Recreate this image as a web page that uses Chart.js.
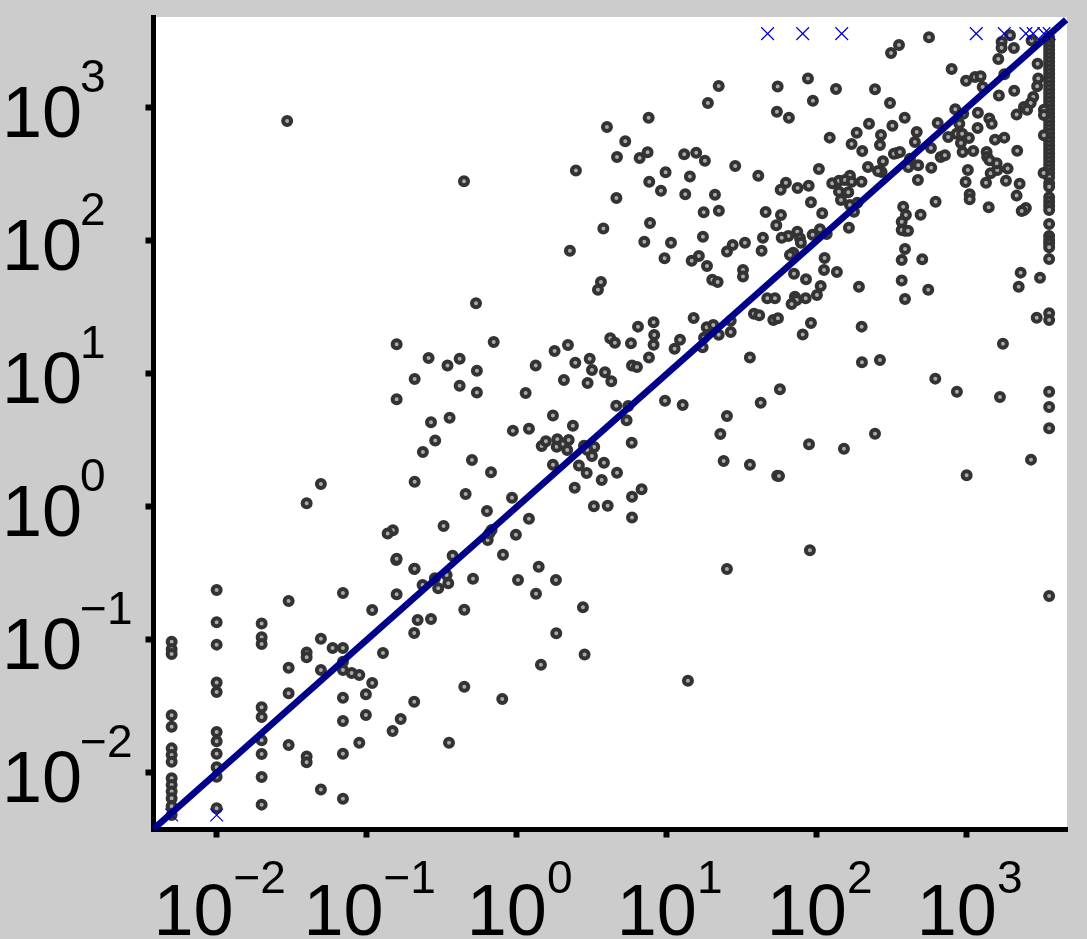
<!DOCTYPE html>
<html>
<head>
<meta charset="utf-8">
<title>Log-log scatter</title>
<script src="https://cdn.jsdelivr.net/npm/chart.js@4"></script>
<style>
html, body { margin: 0; padding: 0; background: #cccccc; overflow: hidden; }
canvas { display: block; }
</style>
</head>
<body>
<canvas id="scatter" width="1087" height="939"></canvas>
<script>
// axis ticks and bounds (log10 of the limits)
var tickValues = [0.01, 0.1, 1, 10, 100, 1000];
var tickExponents = ["\u22122", "\u22121", "0", "1", "2", "3"];
var xLimits = [-2.421, 3.669];
var yLimits = [-2.425, 3.684];
var lineEnds = [-2.421, 3.663];

// floor and ceiling values, where many points pile up in columns
var xFloor = -2.30, xNext = -2.00, xThird = -1.70, xCeil = 3.55;
var yAtFloor = [-1.013,-1.07,-1.105,-1.566,-1.652,-1.815,-1.865,-1.915,-2.04,-2.09,-2.14,-2.19,-2.25,-2.316];
var yAtNext = [-0.624,-0.867,-1.035,-1.32,-1.391,-1.692,-1.762,-1.855,-1.957,-2.028,-2.266];
var yAtThird = [-0.877,-0.98,-1.03,-1.506,-1.579,-1.754,-1.857,-2.03,-2.238];
var yAtCeil = [3.53,3.50,3.47,3.44,3.41,3.38,3.35,3.32,3.29,3.26,3.23,3.20,3.17,3.14,3.11,3.08,3.05,3.02,2.99,2.96,2.93,2.90,2.87,2.84,2.81,2.78,2.75,2.72,2.69,2.66,2.63,2.60,2.57,2.54,2.51,2.48,
	2.434,2.408,2.329,2.296,2.265,2.233,2.128,2.038,2.008,1.983,1.953,1.865,1.456,1.406,0.867,0.752,0.592,-0.669];

// log10 x, log10 y pairs, by part of the plot
var lowPoints = [[-1.52,-0.707],[-1.52,-1.208],[-1.52,-1.401],[-1.52,-1.789],[-1.40,-1.095],[-1.40,-1.13],[-1.40,-1.877],[-1.40,-1.92],
	[-1.305,-0.99],[-1.305,-1.226],[-1.305,-2.125],[-1.227,-1.06],[-1.158,-0.647],[-1.158,-1.06],[-1.158,-1.163],[-1.158,-1.226],[-1.158,-1.434],[-1.158,-1.609],[-1.158,-1.855],[-1.158,-2.193],
	[-1.10,-1.248],[-1.049,-1.263],[-1.049,-1.772],[-0.963,-0.774],[-0.963,-1.323],[-1.005,-1.408],[-1.005,-1.564],[-0.891,-1.098],[-0.80,-0.657],[-0.803,-0.398],
	[-0.683,-0.466],[-0.66,-0.85],[-0.571,-0.842],[-0.683,-0.947],[-0.683,-1.464],[-0.773,-1.594],[-0.827,-1.684],[-0.627,-0.586],[-0.545,-0.536],[-0.523,-0.611],[-0.456,-0.574],[-0.467,-0.511],[-0.451,-1.772]];

var midLeftPoints = [[-1.53,2.902],[-0.271,1.531],[-0.80,1.223],[-0.153,1.241],[-0.587,1.12],[-0.38,1.115],[-0.461,1.063],[-0.265,1.025],[-0.68,0.962],[-0.38,0.912],[-0.265,0.86],[-0.80,0.81],
	[0.253,1.173],[0.342,1.218],[0.391,1.085],[0.127,1.063],[0.315,0.955],[0.06,0.857],[0.242,0.687],[0.375,0.611],[-0.025,0.574],[0.082,0.589],[-0.447,0.671],[-0.571,0.637],[-0.543,0.499],[-0.625,0.414],
	[-0.298,0.353],[-0.171,0.261],[-0.68,0.19],[-1.305,0.173],[-1.40,0.028],[-0.34,0.098],[-0.031,0.07],[-0.198,-0.03],[0.082,-0.088],[-0.005,-0.208],[-0.091,-0.359],[0.147,-0.449],
	[-0.825,-0.175],[-0.86,-0.2],[-0.487,-0.143],[-0.167,-0.173],[-0.193,-0.248],[-0.182,-0.198],[-0.80,-0.389],[-0.68,-0.464],[-0.427,-0.366],[-0.291,-0.539],[0.009,-0.549],[0.262,-0.549],
	[0.167,0.459],[0.195,0.494],[0.271,0.509],[0.267,0.453],[0.311,0.474],[0.347,0.504],[0.337,0.429],[0.242,0.318],[0.415,0.311],[0.387,0.145],
	[0.129,-0.652],[-0.349,-0.772],[0.442,-0.754],[0.264,-0.95],[0.453,-1.11],[0.162,-1.186],[-0.349,-1.351],[-0.096,-1.444],[1.142,-1.306]];

var midPoints = [[0.487,1.115],[0.502,1.03],[0.589,1.013],[0.631,0.945],[0.473,0.932],[0.624,1.268],[0.655,1.235],[0.809,1.356],[0.762,1.231],[0.913,1.389],[0.917,1.293],[0.913,1.22],
	[1.089,1.258],[1.053,1.19],[0.882,1.123],[0.769,1.063],[0.802,1.053],[1.18,1.421],[1.267,1.351],[1.311,1.368],[1.427,1.401],[1.347,1.295],[1.427,1.316],[1.249,1.273],[1.24,1.2],
	[1.582,1.453],[1.617,1.441],[1.711,1.406],[1.742,1.419],[1.555,1.123],[1.755,0.885],[1.627,0.784],[0.664,0.762],[0.744,0.759],[0.733,0.652],[0.989,0.799],[1.107,0.767],[1.402,0.684],[1.358,0.549],[1.38,0.346],[1.555,0.318],[1.737,0.235],
	[0.767,0.483],[0.449,0.461],[0.517,0.451],[0.471,0.429],[0.502,0.383],[0.467,0.256],[0.582,0.333],[0.669,0.258],[0.567,0.203],[0.833,0.133],[0.769,0.077],[0.515,0.005],[0.607,0.01],[0.769,-0.08],[1.402,-0.466]];

var upperMidPoints = [[1.347,3.165],[1.275,3.038],[0.88,2.927],[0.602,2.857],[0.724,2.75],[0.669,2.632],[0.82,2.624],[0.873,2.667],[1.117,2.652],[1.197,2.664],[1.255,2.604],[1.457,2.564],[0.395,2.529],[-0.351,2.449],
	[0.993,2.517],[1.155,2.484],[0.884,2.446],[0.962,2.378],[1.124,2.351],[1.322,2.348],[0.665,2.323],[1.247,2.216],[1.348,2.228],[0.889,2.135],[0.578,2.093],[0.355,1.927],[0.851,1.995],[1.029,1.987],[1.242,2.032],
	[1.522,1.987],[1.44,1.97],[1.402,1.92],[0.986,1.87],[1.215,1.887],[1.167,1.852],[1.269,1.812],[1.509,1.782],[1.509,1.732],[1.304,1.709],[1.34,1.692],[0.562,1.692],[0.542,1.634]];

var upperRightPoints = [[2.549,3.474],[2.496,3.414],[1.942,3.221],[1.74,3.161],[2.129,3.143],[2.389,3.14],[1.975,3.055],[2.489,3.038],[1.735,2.972],[1.815,2.927],[2.587,2.927],[2.505,2.867],[2.349,2.882],[2.267,2.814],[2.429,2.797],[2.422,2.722],[2.233,2.729],[2.304,2.677],[2.087,2.777],[2.535,2.662],[2.515,2.656],[2.442,2.599],[2.342,2.556],[2.015,2.541],[1.611,2.491],[2.433,2.519],[2.409,2.526],[2.222,2.491],
	[1.795,2.438],[1.76,2.386],[1.873,2.398],[1.947,2.416],[2.104,2.434],[2.149,2.453],[2.189,2.459],[2.233,2.446],[2.299,2.446],[2.149,2.371],[2.211,2.366],[2.162,2.308],[1.962,2.291],[2.222,2.271],[2.271,2.288],[2.249,2.22],[2.037,2.208],[1.66,2.218],[1.762,2.195],[1.731,2.118],[2.215,2.1],
	[1.871,2.07],[1.811,2.038],[1.767,2.025],[1.889,2.02],[1.895,1.987],[1.973,2.047],[2.022,2.088],[2.067,2.053],[1.642,2.025],[1.633,1.927],[1.844,1.912],[1.822,1.895],[2.053,1.872],[2.049,1.782],[2.135,1.767],[1.849,1.754],[1.929,1.712],[2.027,1.662],[2.002,1.594],[1.927,1.569],[1.855,1.581],[1.867,1.556],[1.833,1.526],[1.671,1.569],[1.722,1.569],[2.282,1.656]];

var rightPoints = [[1.962,1.383],[1.907,1.296],[2.3,1.356],[2.302,1.088],[2.422,1.105],[3.242,1.228],[3.467,1.423],[2.791,0.965],[2.935,0.867],[3.222,0.827],[2.389,0.551],[1.949,0.471],[2.182,0.438],[1.749,0.233],[3.429,0.356],[3.0,0.238],[1.955,-0.326],
	[2.764,2.551],[2.675,2.459],[3.008,2.534],[2.993,2.444],[3.129,2.438],[3.16,2.509],[3.204,2.534],[3.2,2.584],[3.273,2.544],[3.262,2.453],[3.353,2.431],[3.333,2.341],[3.382,2.233],[3.395,2.248],[3.367,2.226],[3.02,2.351],[3.02,2.313],[3.147,2.253],[2.793,2.295],[2.693,2.198],[2.577,2.258],[2.595,2.195],[2.567,2.145],[2.589,2.077],[2.567,2.083],[2.609,2.077],[2.589,1.94],[2.567,1.857],[2.704,1.862],[2.567,1.702],[2.744,1.634],[2.589,1.564],[3.513,2.511],[3.489,1.724],[3.36,1.762],[3.347,1.656]];

var topRightPoints = [[2.749,3.531],[2.9,3.293],[2.996,3.205],[3.056,3.233],[3.093,3.238],[3.107,3.158],[3.211,3.368],[3.233,3.496],[3.233,3.453],[3.289,3.546],[3.315,3.451],[3.433,3.508],[3.473,3.333],[3.251,3.253],[3.477,3.221],[3.47,3.163],[3.317,3.13],[3.215,3.093],[3.444,3.083],[3.427,3.038],[3.382,3.008],[3.403,2.987],[3.333,2.95],[3.515,2.987],[3.515,2.947],[3.515,2.795],[3.075,2.964],[2.924,2.99],[2.977,2.957],[3.151,2.92],[3.167,2.882],
	[2.807,2.887],[2.951,2.882],[3.073,2.85],[2.667,2.82],[2.877,2.782],[2.933,2.807],[2.97,2.807],[3.015,2.774],[2.962,2.737],[2.655,2.744],[3.189,2.762],[3.251,2.777],[2.973,2.669],[3.044,2.677],[3.337,2.679],[2.762,2.699],[2.555,2.669],[2.827,2.632],[2.855,2.644],[3.133,2.669],[3.137,2.632],[3.153,2.607],[2.611,2.556],[2.677,2.569],[2.622,2.619]];

// points that fall off the plotted range, shown as crosses
var crossPoints = [[1.673,3.559],[1.907,3.559],[2.167,3.559],[3.064,3.559],[3.251,3.559],[3.395,3.559],[3.444,3.559],[3.515,3.559],[3.55,3.559],[-2.30,-2.316],[-2.00,-2.316]];

function pow10(v) { return Math.pow(10, v); }
function toXY(pair) { return { x: pow10(pair[0]), y: pow10(pair[1]) }; }
function column(x, ys) { return ys.map(function(y) { return toXY([x, y]); }); }

var circles = column(xFloor, yAtFloor)
	.concat(column(xNext, yAtNext), column(xThird, yAtThird), column(xCeil, yAtCeil))
	.concat(lowPoints.map(toXY), midLeftPoints.map(toXY), midPoints.map(toXY))
	.concat(upperMidPoints.map(toXY), upperRightPoints.map(toXY), rightPoints.map(toXY), topRightPoints.map(toXY));

// white plot area behind the marks
var plotBackground = {
	id: "plotBackground",
	beforeDraw: function(chart) {
		var a = chart.chartArea;
		chart.ctx.save();
		chart.ctx.fillStyle = "#ffffff";
		chart.ctx.fillRect(a.left, a.top, a.right - a.left, a.bottom - a.top);
		chart.ctx.restore();
	}
};

// tick labels have raised exponents, which the library can't set itself
var powerLabels = {
	id: "powerLabels",
	afterDraw: function(chart) {
		var ctx = chart.ctx;
		var baseFont = "72px 'Liberation Sans'";
		var expFont = "46px 'Liberation Sans'";
		ctx.save();
		ctx.fillStyle = "#000000";
		ctx.textAlign = "left";
		ctx.textBaseline = "alphabetic";
		tickValues.forEach(function(v, i) {
			var exp = tickExponents[i];
			ctx.font = baseFont;
			var baseW = ctx.measureText("10").width;
			ctx.font = expFont;
			var expW = ctx.measureText(exp).width;

			var tx = chart.scales.x.getPixelForValue(v);
			var start = tx + 3 - (baseW + expW) / 2;
			ctx.font = baseFont;
			ctx.fillText("10", start, 935);
			ctx.font = expFont;
			ctx.fillText(exp, start + baseW, 893);

			var ty = chart.scales.y.getPixelForValue(v);
			ctx.font = baseFont;
			ctx.fillText("10", 2, ty + 29);
			ctx.font = expFont;
			ctx.fillText(exp, baseW + 0, ty - 16);
		});
		ctx.restore();
	}
};

function axisOptions(limits) {
	return {
		type: "logarithmic",
		min: pow10(limits[0]),
		max: pow10(limits[1]),
		afterBuildTicks: function(scale) {
			scale.ticks = tickValues.map(function(v) { return { value: v }; });
		},
		ticks: { display: false, autoSkip: false },
		grid: { drawOnChartArea: false, drawTicks: true, tickLength: 8, tickWidth: 6, tickColor: "#000000" },
		border: { display: true, width: 5, color: "#000000" }
	};
}

var chart = new Chart(document.getElementById("scatter"), {
	type: "scatter",
	data: {
		datasets: [
			{
				label: "y = x",
				data: lineEnds.map(function(v) { return { x: pow10(v), y: pow10(v) }; }),
				showLine: true,
				pointRadius: 0,
				borderColor: "#00008b",
				borderWidth: 6.5,
				clip: false
			},
			{
				label: "Clipped",
				data: crossPoints.map(toXY),
				pointStyle: "crossRot",
				pointRadius: 9,
				pointBorderWidth: 1.2,
				pointBorderColor: "#0000cc",
				showLine: false,
				clip: false
			},
			{
				label: "Observations",
				data: circles,
				pointStyle: "circle",
				pointRadius: 4,
				pointBorderWidth: 4,
				pointBorderColor: "#333333",
				pointBackgroundColor: "#aaaaaa",
				showLine: false,
				clip: false
			}
		]
	},
	options: {
		responsive: false,
		animation: false,
		layout: { padding: { left: 145.5, right: 20, top: 17, bottom: 101.5 } },
		plugins: { legend: { display: false }, tooltip: { enabled: false } },
		scales: { x: axisOptions(xLimits), y: axisOptions(yLimits) }
	},
	plugins: [plotBackground, powerLabels]
});
</script>
</body>
</html>
